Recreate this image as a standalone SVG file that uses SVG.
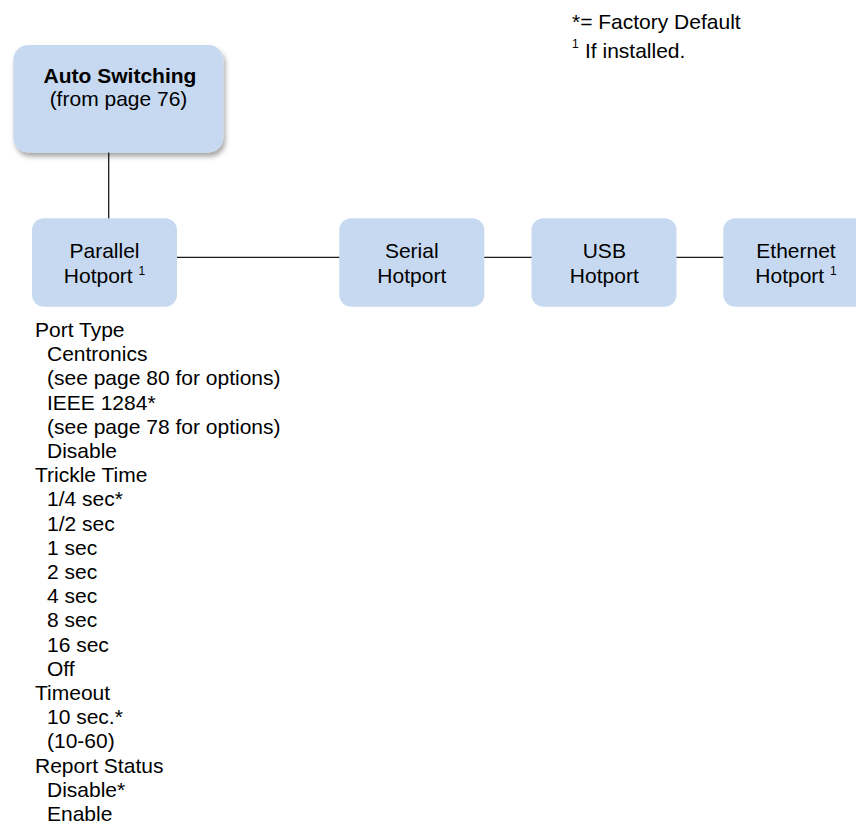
<svg xmlns="http://www.w3.org/2000/svg" width="856" height="826" viewBox="0 0 856 826">
  <style>
    text { font-family: "Liberation Sans", Arial, sans-serif; font-size: 21px; fill: #000; }
    .box { fill: #c6d9f1; }
    .b { font-weight: bold; }
    .sup { font-size: 12px; }
    .c { text-anchor: middle; }
    .conn line { stroke: #1a1a1a; stroke-width: 1.3; }
  </style>
  <defs>
    <filter id="sh" x="-10%" y="-10%" width="125%" height="130%">
      <feDropShadow dx="2" dy="4" stdDeviation="2.5" flood-color="#000" flood-opacity="0.35"/>
    </filter>
  </defs>
  <rect width="856" height="826" fill="#fff"/>

  <g id="legend">
    <text x="572" y="29">*= Factory Default</text>
    <text x="572" y="48" class="sup">1</text>
    <text x="585" y="58">If installed.</text>
  </g>

  <g class="conn" id="connectors">
    <line x1="108.7" y1="152" x2="108.7" y2="219"/>
    <line x1="177" y1="257.3" x2="340" y2="257.3"/>
    <line x1="484" y1="257.3" x2="532" y2="257.3"/>
    <line x1="676" y1="257.3" x2="724" y2="257.3"/>
  </g>

  <g id="auto-switching">
    <rect class="box" x="13.3" y="45" width="210" height="107.5" rx="15" filter="url(#sh)"/>
    <text x="120" y="83" class="c b">Auto Switching</text>
    <text x="118.5" y="105.5" class="c">(from page 76)</text>
  </g>

  <g id="parallel">
    <rect class="box" x="32" y="218.3" width="145" height="88.5" rx="12"/>
    <text x="104.5" y="258" class="c">Parallel</text>
    <text x="104.5" y="283" class="c">Hotport <tspan class="sup" dy="-8">1</tspan></text>
  </g>

  <g id="serial">
    <rect class="box" x="339.3" y="218.3" width="145" height="88.5" rx="12"/>
    <text x="411.8" y="258" class="c">Serial</text>
    <text x="411.8" y="283" class="c">Hotport</text>
  </g>

  <g id="usb">
    <rect class="box" x="531.5" y="218.3" width="145" height="88.5" rx="12"/>
    <text x="604.3" y="258" class="c">USB</text>
    <text x="604.3" y="283" class="c">Hotport</text>
  </g>

  <g id="ethernet">
    <rect class="box" x="723.3" y="218.3" width="145" height="88.5" rx="12"/>
    <text x="796" y="258" class="c">Ethernet</text>
    <text x="796" y="283" class="c">Hotport <tspan class="sup" dy="-8">1</tspan></text>
  </g>

  <g id="parallel-options">
    <text x="35" y="337">Port Type</text>
    <text x="47" y="361.2">Centronics</text>
    <text x="47" y="385.4">(see page 80 for options)</text>
    <text x="47" y="409.6">IEEE 1284*</text>
    <text x="47" y="433.8">(see page 78 for options)</text>
    <text x="47" y="458">Disable</text>
    <text x="35" y="482.2">Trickle Time</text>
    <text x="47" y="506.4">1/4 sec*</text>
    <text x="47" y="530.6">1/2 sec</text>
    <text x="47" y="554.8">1 sec</text>
    <text x="47" y="579">2 sec</text>
    <text x="47" y="603.2">4 sec</text>
    <text x="47" y="627.4">8 sec</text>
    <text x="47" y="651.6">16 sec</text>
    <text x="47" y="675.8">Off</text>
    <text x="35" y="700">Timeout</text>
    <text x="47" y="724.2">10 sec.*</text>
    <text x="47" y="748.4">(10-60)</text>
    <text x="35" y="772.6">Report Status</text>
    <text x="47" y="796.8">Disable*</text>
    <text x="47" y="821">Enable</text>
  </g>
</svg>
